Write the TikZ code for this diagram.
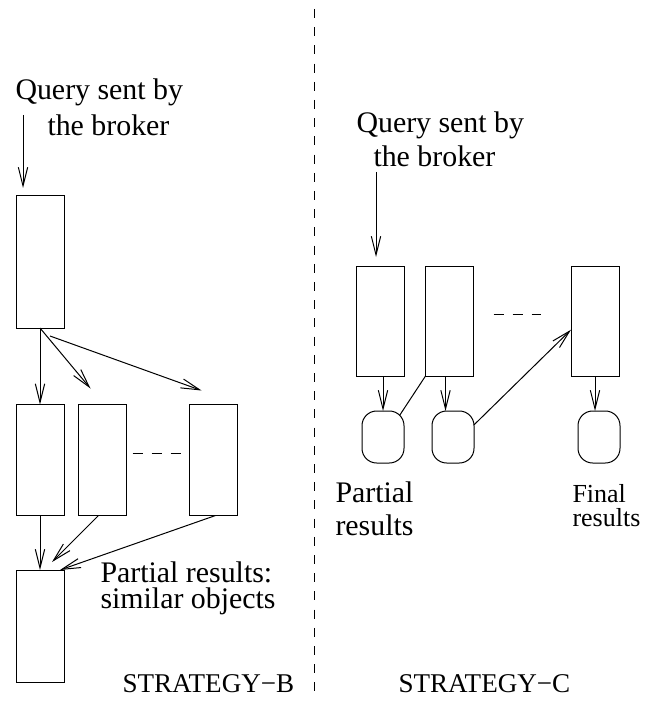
\documentclass[tikz,border=0pt]{standalone}
\usepackage{fontspec}
\setmainfont{Liberation Serif}
\usetikzlibrary{arrows.meta}
\usetikzlibrary{calc}

\tikzset{
  blk/.style={draw, minimum width=36pt, minimum height=83.25pt, inner sep=0pt, outer sep=0pt},
  res/.style={draw, rounded corners=11pt, minimum width=31.5pt, minimum height=39pt, inner sep=0pt, outer sep=0pt},
  txt/.style={inner sep=0pt, anchor=base west, align=left, font=\fontsize{22.4}{27}\selectfont},
  arr/.style={-{Straight Barb[length=14pt,width=7pt]}},
  gap/.style={dash pattern=on 7.5pt off 6.75pt},
}

\begin{document}
\begin{tikzpicture}[x=0.75pt,y=0.75pt,yscale=-1,xscale=1,line width=0.75pt]
\useasboundingbox (0,0) rectangle (644,702);

%Straight Lines: separator
\draw [dash pattern=on 6.75pt off 6.9pt] (314,9) -- (314,700);

%%% STRATEGY-B
% Text Node
\node [txt] (qb1) at (15,100) {Query sent by};
\node [txt] (qb2) at (47,136) {the broker};
%Shape: Rectangle
\node [blk, minimum height=99pt] (A) at (40,262) {};
\node [blk] (B1) at (40,460) {};
\node [blk] (B2) at (102.5,460) {};
\node [blk] (B3) at (213.5,460) {};
\node [blk, minimum height=84pt] (C) at (40,626) {};
%Straight Lines
\coordinate (qbs) at (23,115);
\draw [arr] (qbs) -- ($(A.north west)+(7,-8)$);
\draw [arr] (A.south) -- (B1.north);
\draw [arr] (A.south) -- ($(B2.north west)+(12,-16)$);
\draw [arr] ($(A.south)+(10,8)$) -- ($(B3.north west)+(12,-14)$);
\draw [gap] ($(B2.east)+(6,-7)$) -- ($(B3.west)+(-9,-7)$);
\draw [arr] (B1.south) -- (C.north);
\draw [arr] ($(B2.south)+(-4,0)$) -- ($(C.north)+(12,-8)$);
\draw [arr] ($(B3.south)+(2,0)$) -- ($(C.north east)+(-4,0)$);
% Text Node
\node [txt, font=\fontsize{22.4}{19.5}\selectfont] (ps) at (100,608) {Partial results:\\similar objects};
\node [txt, font=\fontsize{20.3}{24}\selectfont] (sb) at (122,692) {STRATEGY−B};

%%% STRATEGY-C
% Text Node
\node [txt] (qc1) at (356,133) {Query sent by};
\node [txt] (qc2) at (373,167) {the broker};
%Shape: Rectangle
\node [blk, minimum height=82.5pt] (R1) at (380,321) {};
\node [blk, minimum height=82.5pt] (R2) at (449.5,321) {};
\node [blk, minimum height=82.5pt] (R3) at (595,321) {};
%Shape: Rounded Rect
\node [res] (N1) at (383,437) {};
\node [res] (N2) at (453,437) {};
\node [res] (N3) at (599,437) {};
%Straight Lines
\coordinate (qcs) at (376,172);
\draw [arr] (qcs) -- ($(R1.north west)+(20,-9)$);
\draw [arr] (N1.north |- R1.south) -- (N1.north);
\draw [arr] ($(R2.south)+(-4,0)$) -- ($(R2.south |- N2.north)+(-4,0)$);
\draw [arr] (R3.south) -- (R3.south |- N3.north);
\draw (R2.south west) -- ($(N1.north east)+(-4.4,4.4)$);
\draw [arr] (N2.30) -- (R3.200);
\draw [gap] ($(R2.east)+(20,-7)$) -- ($(R3.west)+(-30,-7)$);
% Text Node
\node [txt, font=\fontsize{22.4}{24.75}\selectfont] (pr) at (335,535) {Partial\\results};
\node [txt, font=\fontsize{19.5}{18}\selectfont] (fr) at (572,526) {Final\\results};
\node [txt, font=\fontsize{20.3}{24}\selectfont] (sc) at (398,692) {STRATEGY−C};

\end{tikzpicture}
\end{document}
